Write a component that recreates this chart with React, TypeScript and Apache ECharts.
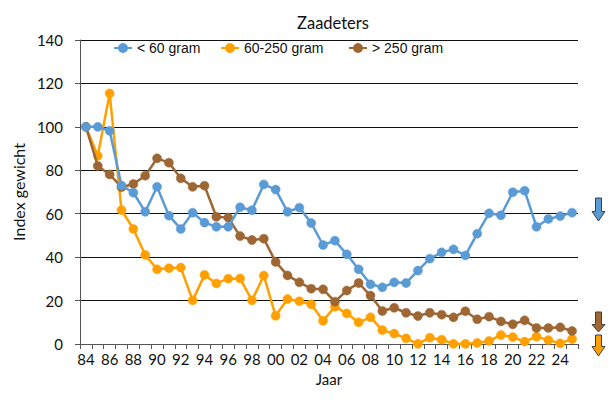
import React, { useEffect, useRef } from "react";
import * as echarts from "echarts";

const years: string[] = [
  "84","85","86","87","88","89","90","91","92","93","94","95","96","97","98","99",
  "00","01","02","03","04","05","06","07","08","09","10","11","12","13","14","15",
  "16","17","18","19","20","21","22","23","24","25",
];

const small: number[] = [
  100, 100, 98.2, 73, 69.7, 60.9, 72.4, 59.1, 53, 60.5, 55.9, 54, 54, 63, 61.6, 73.5,
  71.1, 60.9, 62.8, 55.7, 45.6, 47.6, 41.3, 34.4, 27.5, 26.1, 28.4, 28.1, 33.8, 39.3, 42.2, 43.6,
  40.8, 50.8, 60.2, 59.3, 69.9, 70.6, 54, 57.6, 58.9, 60.5,
];

const medium: number[] = [
  100, 86.7, 115.4, 61.7, 53, 41, 34.4, 34.9, 35.2, 20.1, 31.8, 27.9, 30.1, 30.2, 20.1, 31.5,
  13, 20.7, 19.7, 18.3, 10.7, 17.2, 14.1, 10, 12.3, 6.4, 4.8, 2.6, 0.1, 2.9, 2.0, 0.1,
  0.1, 0.5, 1.4, 4.1, 3.2, 1.1, 3.4, 1.8, 0.3, 2.3,
];

const large: number[] = [
  100, 82, 78.1, 72.2, 73.7, 77.5, 85.5, 83.5, 76.3, 72.4, 72.9, 58.6, 58.2, 49.7, 47.9, 48.5,
  37.8, 31.6, 28.4, 25.5, 25.2, 19.5, 24.6, 28.1, 22.3, 15.2, 16.7, 14.4, 12.9, 14.4, 13.5, 12.3,
  15.1, 11.4, 12.6, 10.4, 9.1, 10.9, 7.4, 7.4, 7.7, 6.0,
];

const seriesNames: string[] = ["< 60 gram", "60-250 gram", "> 250 gram"];
const seriesColors: string[] = ["#5B9BD5", "#FFA000", "#9E6632"];

function downArrow(cx: number, top: number, headTop: number, bottom: number, fill: string) {
  const sw = 3;
  const hw = 6.5;
  return {
    type: "polygon",
    shape: {
      points: [
        [cx - sw, top],
        [cx + sw, top],
        [cx + sw, headTop],
        [cx + hw, headTop],
        [cx, bottom],
        [cx - hw, headTop],
        [cx - sw, headTop],
      ],
    },
    style: { fill, stroke: "#404040", lineWidth: 1 },
    silent: true,
  };
}

const legendLefts = [113, 220, 348];

export default function App() {
  const ref = useRef<HTMLDivElement>(null);

  useEffect(() => {
    if (!ref.current) return;
    const chart = echarts.init(ref.current, undefined, { renderer: "svg" });
    const data = [small, medium, large];
    chart.setOption({
      animation: false,
      backgroundColor: "#ffffff",
      title: {
        text: "Zaadeters",
        left: 328,
        top: 9,
        textAlign: "center",
        textStyle: { fontFamily: "Lato", fontSize: 16.5, fontWeight: "normal", color: "#111" },
      },
      legend: seriesNames.map((name, i) => ({
        top: 41,
        left: legendLefts[i],
        padding: 0,
        itemWidth: 18,
        itemHeight: 10,
        itemGap: 0,
        textStyle: { fontFamily: "Liberation Sans", fontSize: 14, color: "#111" },
        data: [name],
      })),
      grid: { left: 80, right: 37, top: 40, bottom: 56, containLabel: false },
      xAxis: {
        type: "category",
        data: years,
        boundaryGap: true,
        name: "Jaar",
        nameLocation: "middle",
        nameGap: 27,
        nameTextStyle: { fontFamily: "Lato", fontSize: 15, color: "#111" },
        axisLine: { show: true, lineStyle: { color: "#555", width: 1 } },
        axisTick: { show: true, interval: 0, length: 5, lineStyle: { color: "#555" } },
        axisLabel: {
          interval: 1,
          margin: 7,
          fontFamily: "Lato",
          fontSize: 15,
          color: "#111",
        },
        splitLine: { show: false },
      },
      yAxis: {
        type: "value",
        min: 0,
        max: 140,
        interval: 20,
        name: "Index gewicht",
        nameLocation: "middle",
        nameGap: 52,
        nameTextStyle: { fontFamily: "Lato", fontSize: 16, color: "#111" },
        axisLine: { show: true, lineStyle: { color: "#555", width: 1 } },
        axisTick: { show: true, length: 5, lineStyle: { color: "#555" } },
        axisLabel: { margin: 17, fontFamily: "Lato", fontSize: 15, color: "#111" },
        splitLine: { show: true, lineStyle: { color: "#111", width: 1 } },
      },
      series: seriesNames.map((name, i) => ({
        name,
        type: "line",
        data: data[i],
        symbol: "circle",
        symbolSize: 9,
        showSymbol: true,
        showAllSymbol: true,
        color: seriesColors[i],
        lineStyle: { width: 2.5, color: seriesColors[i] },
        itemStyle: { color: seriesColors[i], borderColor: seriesColors[i], borderWidth: 0.5 },
        z: i === 0 ? 4 : i === 1 ? 2 : 3,
      })),
      graphic: [
        downArrow(598.5, 198, 211.5, 221, seriesColors[0]),
        downArrow(598.5, 312, 324.5, 332, seriesColors[2]),
        downArrow(598.5, 335, 346.5, 356, seriesColors[1]),
      ],
    });
    return () => chart.dispose();
  }, []);

  return (
    <div
      ref={ref}
      style={{ position: "absolute", left: 0, top: 0, width: 615, height: 400 }}
    />
  );
}
